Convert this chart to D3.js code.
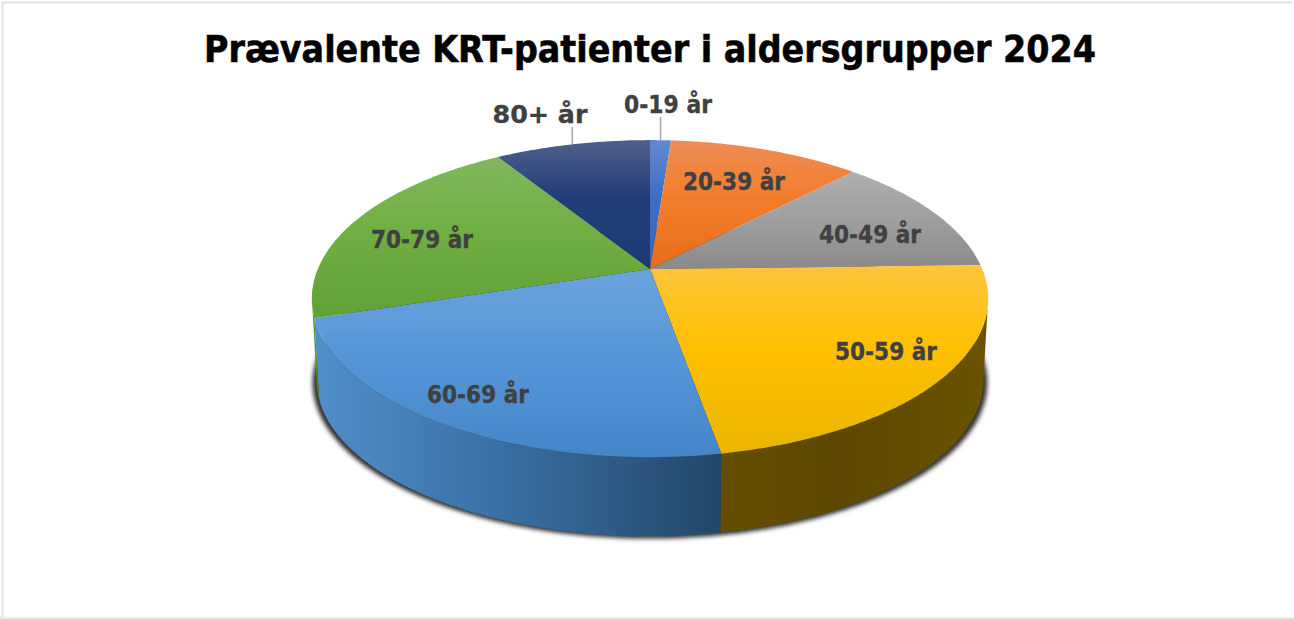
<!DOCTYPE html>
<html><head><meta charset="utf-8">
<script src="https://cdnjs.cloudflare.com/ajax/libs/d3/7.8.5/d3.min.js"></script>
<style>html,body{margin:0;padding:0;background:#fff;overflow:hidden}svg{display:block}</style>
</head><body><svg id="c" width="1294" height="619"></svg>
<script>
const titleText = "Prævalente KRT-patienter i aldersgrupper 2024";
const categories = ["0-19 år","20-39 år","40-49 år","50-59 år","60-69 år","70-79 år","80+ år"];
const shares = [1.2,11.0,12.4,22.6,22.9,21.0,8.9];
const topColors = [["#6388ce","#3f6dc4","#3566bb"],["#ef8d55","#f17d2b","#e76e1a"],["#afafaf","#a0a0a0","#8a8a8a"],["#fdc53c","#ffc000","#e9b500"],["#6ba3dc","#5697d8","#4386c8"],["#82b75e","#70af43","#61a135"],["#50608b","#1f3d78","#1c3a72"]];
const wallColors = [["#3f6bb8","#2a4a80"],["#c0601f","#8a4516"],["#8a8a8a","#666666"],["#644e00","#5c4800","#6a5400"],["#508fcb","#3a70a5","#234768"],["#5f9c38","#4d8230"],["#1b3a72","#14305c"]];
const labelLayout = [[668,104,1],[734,181,0],[870,234,0],[886,351,0],[478,394,0],[422,239,0],[540,114,1]];

const W = 1294, H = 619;
const top3d = {cx:650, cy:269, R:332.2, S:153, k:0.187};
const bot3d = {cx:650, cy:351, R:327.5, S:150.5, k:0.187};
const project = (p, a, r=1) => {
  const X = r*Math.sin(a), Y = -r*Math.cos(a), d = 1 - p.k*Y;
  return [p.cx + p.R*X/d, p.cy + p.S*Y/d];
};
const svg = d3.select("#c");
const defs = svg.append("defs");
defs.append("filter").attr("id","soft").attr("x","-5%").attr("y","-5%").attr("width","110%").attr("height","110%")
  .append("feGaussianBlur").attr("stdDeviation",2);

svg.append("path").attr("d",`M2.5 619V2.5H1292.5`).attr("fill","none").attr("stroke","#e2e2e2").attr("stroke-width",2);
svg.append("line").attr("x1",0).attr("x2",W).attr("y1",618).attr("y2",618).attr("stroke","#e6e6e6").attr("stroke-width",1.5);

const slices = d3.pie().sort(null).value(d=>d)(shares);
const line = d3.line();
const sample = (a0,a1) => { const n=Math.max(2,Math.ceil((a1-a0)/0.01)); return d3.range(n+1).map(i=>a0+(a1-a0)*i/n); };

// gradients
const grad = (id,cs,vertical,mid) => {
  const g = defs.append("linearGradient").attr("id",id).attr("x1",0).attr("y1",0).attr("x2",vertical?0:1).attr("y2",vertical?1:0);
  cs.forEach((c,j)=>g.append("stop").attr("offset",cs.length===3?[0,mid,1][j]:j).attr("stop-color",c));
};
categories.forEach((c,i)=>{ grad("t"+i,topColors[i],true,0.45); grad("w"+i,wallColors[i],false,0.45); });

// drop shadow under the base
const shadowPts = sample(0,2*Math.PI).map(a=>{ const p=project(bot3d,a); return [bot3d.cx+(p[0]-bot3d.cx)*1.012, p[1]+2.5]; });
svg.append("path").attr("d",line(shadowPts)+"Z").attr("fill","#333").attr("filter","url(#soft)");

// visible side wall
const aR = Math.acos(-top3d.k), aL = 2*Math.PI - aR;
svg.append("g").selectAll("path").data(slices.map((s,i)=>({s,i})).filter(d=>d.s.endAngle>aR && d.s.startAngle<aL))
  .join("path")
  .attr("d",d=>{
    const a0=Math.max(d.s.startAngle,aR), a1=Math.min(d.s.endAngle,aL);
    const as=sample(a0,a1);
    return line(as.map(a=>project(top3d,a)).concat(as.slice().reverse().map(a=>project(bot3d,a))))+"Z";
  })
  .attr("fill",d=>`url(#w${d.i})`);

// top faces
svg.append("g").selectAll("path").data(slices).join("path")
  .attr("d",s=>line([[top3d.cx,top3d.cy]].concat(sample(s.startAngle,s.endAngle).map(a=>project(top3d,a))))+"Z")
  .attr("fill",(s,i)=>`url(#t${i})`);

// leader lines
slices.forEach((s,i)=>{
  if(!labelLayout[i][2]) return;
  const p=project(top3d,(s.startAngle+s.endAngle)/2);
  svg.append("line").attr("x1",p[0]).attr("x2",p[0]).attr("y1",p[1]).attr("y2",labelLayout[i][1]+13)
    .attr("stroke","#a6a6a6").attr("stroke-width",1.5);
});

const FONT = "'DejaVu Sans',Verdana,sans-serif";
svg.append("g").selectAll("text").data(categories).join("text")
  .attr("x",(d,i)=>labelLayout[i][0]).attr("y",(d,i)=>labelLayout[i][1]+9)
  .attr("text-anchor","middle").attr("font-family",FONT).attr("font-weight","bold")
  .attr("font-size",24).attr("fill","#404040").attr("stroke","#404040").attr("stroke-width",0.35)
  .attr("textLength",d=>d.startsWith("80+")?95:d.startsWith("0-")?88:102).attr("lengthAdjust","spacingAndGlyphs")
  .text(d=>d);

svg.append("text").attr("x",650).attr("y",62).attr("text-anchor","middle")
  .attr("font-family",FONT).attr("font-weight","bold").attr("font-size",37.5).attr("fill","#000")
  .attr("stroke","#000").attr("stroke-width",0.6)
  .attr("textLength",892).attr("lengthAdjust","spacingAndGlyphs").text(titleText);
</script></body></html>
